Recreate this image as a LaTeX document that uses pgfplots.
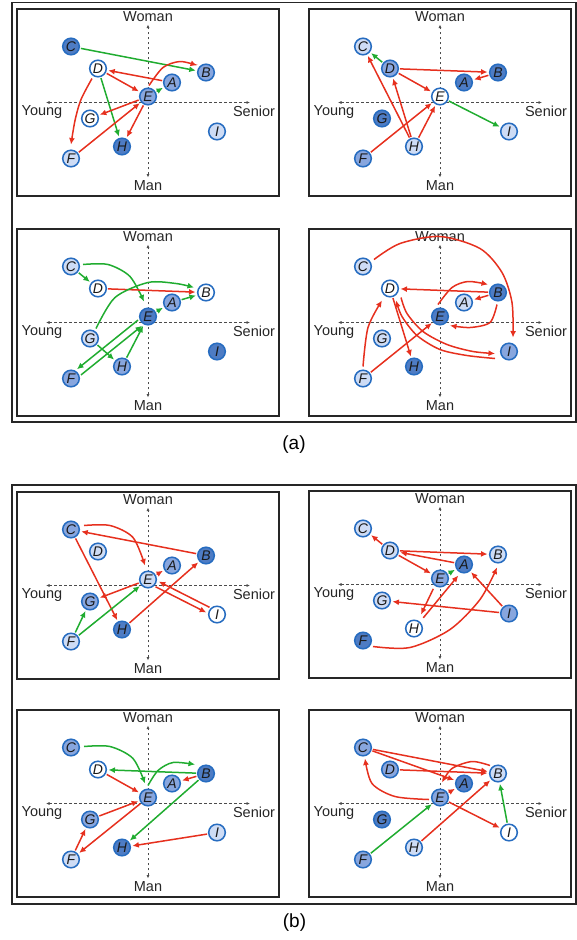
\documentclass[border=0pt]{standalone}
\usepackage{fontspec}
\setmainfont{Liberation Sans}
\usepackage{pgfplots}
\usepackage{pgfplotstable}
\pgfplotsset{compat=1.18}
\usetikzlibrary{arrows.meta}

\definecolor{arrowred}{RGB}{230,48,30}
\definecolor{arrowgreen}{RGB}{32,172,48}
\definecolor{ringblue}{RGB}{38,108,192}

% Positions of the nine persons (age to the right, gender upwards)
% and their shading in each of the eight panels
% (0 = white, 1 = light, 2 = medium, 3 = dark blue).
\pgfplotstableread{
x    y    lab c1 c2 c3 c4 c5 c6 c7 c8
24   20   A   2  3  2  1  2  3  2  3
58   30   B   2  3  0  3  3  1  3  1
-77  56   C   3  1  1  1  2  1  2  2
-50  34   D   0  2  0  0  1  1  0  2
0    6    E   2  0  3  3  1  2  2  2
-77  -56  F   1  2  2  1  1  3  1  2
-58  -16  G   0  3  1  1  2  1  2  3
-26  -44  H   3  1  2  3  3  0  3  1
69   -29  I   1  1  3  2  0  2  1  0
}\persontab

\tikzset{
  link/.style={line width=1.5pt, -{Latex[length=6.5pt,width=6pt]}},
  ra/.style={link, color=arrowred, shorten >=10.5pt, shorten <=10pt},
  ga/.style={link, color=arrowgreen, shorten >=10.5pt, shorten <=10pt},
  rc/.style={link, color=arrowred, smooth},
  gc/.style={link, color=arrowgreen, smooth},
  axlab/.style={font=\fontsize{14.5}{15}\selectfont, text=black!85, inner sep=0pt},
}

\pgfplotsset{
  panel/.style={
    scale only axis, width=262pt, height=187pt, anchor=north west,
    xmin=-131, xmax=131, ymin=-93.5, ymax=93.5,
    axis line style={line width=1.3pt, draw=black!85},
    xtick=\empty, ytick=\empty, clip=false,
    colormap={shades}{rgb255=(255,255,255) rgb255=(206,220,245)
                      rgb255=(136,166,222) rgb255=(78,124,196)},
  },
}

% dashed quadrant lines and their four labels
\newcommand\quadrants{%
  \addplot[line width=0.8pt, black!70, dash pattern=on 2.5pt off 2.5pt,
    {Latex[length=3.5pt,width=3pt]}-{Latex[length=3.5pt,width=3pt]}]
    coordinates {(-102,0) (102,0)};
  \addplot[line width=0.8pt, black!70, dash pattern=on 2.5pt off 2.5pt,
    {Latex[length=3.5pt,width=3pt]}-{Latex[length=3.5pt,width=3pt]}]
    coordinates {(0,-75) (0,78)};
  \node[axlab] at (axis cs:0,85.5) {Woman};
  \node[axlab] at (axis cs:0,-83) {Man};
  \node[axlab] at (axis cs:-106,-10) {Young};
  \node[axlab] at (axis cs:106,-9) {Senior};
}

% the nine persons, shaded after column #1, with their letters
\newcommand\persons[1]{%
  \addplot[scatter, only marks, mark=*, mark size=8.3pt,
    point meta=explicit, point meta min=0, point meta max=3,
    scatter/use mapped color={draw=ringblue, fill=mapped color, line width=1.5pt}]
    table[x=x, y=y, meta=#1]{\persontab};
  \addplot[only marks, mark=none, point meta=explicit symbolic,
    nodes near coords,
    every node near coord/.append style={anchor=center, text=black!90,
      font=\fontsize{14}{14}\selectfont\itshape, inner sep=0pt}]
    table[x=x, y=y, meta=lab]{\persontab};
}

\begin{document}
\begin{tikzpicture}
\useasboundingbox (0pt,0pt) rectangle (577pt,-940pt);

\draw[line width=1.6pt, black!85] (12pt,-2.5pt) rectangle (576pt,-422pt);
\draw[line width=1.6pt, black!85] (12pt,-485pt) rectangle (576pt,-904pt);
\node[font=\fontsize{19}{19}\selectfont] at (294pt,-445pt) {(a)};
\node[font=\fontsize{19}{19}\selectfont] at (294.5pt,-922.5pt) {(b)};

% ---------- (a), upper left
\begin{axis}[panel, at={(17pt,-9pt)}]
\quadrants
\addplot[ga] coordinates {(-77,56) (58,30)};
\addplot[ra] coordinates {(24,20) (-50,34)};
\addplot[rc] coordinates {(1,17) (15,35) (32,41) (49,37)};
\addplot[ga] coordinates {(0,6) (24,20)};
\addplot[ra] coordinates {(-50,34) (0,6)};
\addplot[rc] coordinates {(-56,24) (-67,3) (-73,-18) (-77,-42)};
\addplot[ga] coordinates {(-50,34) (-26,-44)};
\addplot[ra] coordinates {(0,6) (-58,-16)};
\addplot[ra] coordinates {(-77,-56) (0,6)};
\addplot[ra] coordinates {(0,6) (-26,-44)};
\persons{c1}
\end{axis}

% ---------- (a), upper right
\begin{axis}[panel, at={(309pt,-9pt)}]
\quadrants
\addplot[ga] coordinates {(-50,34) (-77,56)};
\addplot[ra] coordinates {(-26,-44) (-77,56)};
\addplot[ra] coordinates {(-26,-44) (-50,34)};
\addplot[ra] coordinates {(-26,-44) (0,6)};
\addplot[ra] coordinates {(-50,34) (58,30)};
\addplot[ra] coordinates {(58,30) (24,20)};
\addplot[ra] coordinates {(-50,34) (0,6)};
\addplot[ra] coordinates {(-77,-56) (0,6)};
\addplot[ga] coordinates {(0,6) (69,-29)};
\persons{c2}
\end{axis}

% ---------- (a), lower left
\begin{axis}[panel, at={(17pt,-229pt)}]
\quadrants
\addplot[ga] coordinates {(-77,56) (-50,34)};
\addplot[gc] coordinates {(-65,58) (-40,58) (-18,46) (-4,21)};
\addplot[ra] coordinates {(-50,34) (58,30)};
\addplot[gc] coordinates {(-52,-6) (-33,25) (0,40) (28,39) (46,35)};
\addplot[ga] coordinates {(0,6) (24,20)};
\addplot[ga] coordinates {(24,20) (58,30)};
\addplot[ga] coordinates {(-58,-16) (-26,-44)};
\addplot[ga] coordinates {(-2.2,8.7) (-79.2,-53.3)};
\addplot[ga] coordinates {(-74.8,-58.7) (2.2,3.3)};
\addplot[ga] coordinates {(-26,-44) (0,6)};
\persons{c3}
\end{axis}

% ---------- (a), lower right
\begin{axis}[panel, at={(309pt,-229pt)}]
\quadrants
\addplot[rc] coordinates {(-66,63) (-40,79) (0,86) (40,74) (62,50) (72,20) (73,-15)};
\addplot[ra] coordinates {(58,30) (-50,34)};
\addplot[rc] coordinates {(-2,18) (12,35) (28,41) (48,38)};
\addplot[ra] coordinates {(58,30) (24,20)};
\addplot[rc] coordinates {(57,18) (50,0) (30,-5) (10,-3)};
\addplot[rc] coordinates {(-77,-44) (-72,-5) (-58,22)};
\addplot[ra] coordinates {(-77,-56) (0,6)};
\addplot[ra] coordinates {(-50,34) (-26,-44)};
\addplot[rc] coordinates {(-39,25) (-33,9) (-17,-9) (7,-22) (33,-29) (55,-31)};
\addplot[rc] coordinates {(55,-36) (27,-33) (0,-27) (-23,-13) (-38,6) (-44,22)};
\persons{c4}
\end{axis}

% ---------- (b), upper left
\begin{axis}[panel, at={(17pt,-492pt)}]
\quadrants
\addplot[rc] coordinates {(-64,60) (-38,60) (-15,48) (-3,20)};
\addplot[ra] coordinates {(58,30) (-77,56)};
\addplot[ra] coordinates {(-77,56) (-26,-44)};
\addplot[ra] coordinates {(0,6) (24,20)};
\addplot[ra] coordinates {(0,6) (-58,-16)};
\addplot[ga] coordinates {(-77,-56) (-58,-16)};
\addplot[ga] coordinates {(-77,-56) (0,6)};
\addplot[ra] coordinates {(-26,-44) (58,30)};
\addplot[ra] coordinates {(70.4,-26.3) (1.4,8.7)};
\addplot[ra] coordinates {(-1.4,3.3) (67.6,-31.7)};
\persons{c5}
\end{axis}

% ---------- (b), upper right
\begin{axis}[panel, at={(309pt,-491pt)}]
\quadrants
\addplot[ra] coordinates {(-50,34) (-77,56)};
\addplot[ra] coordinates {(-50,34) (58,30)};
\addplot[ra] coordinates {(24,20) (-50,34)};
\addplot[ra] coordinates {(-50,34) (0,6)};
\addplot[ga] coordinates {(0,6) (24,20)};
\addplot[rc] coordinates {(-6.7,-4.3) (-19,-30)};
\addplot[rc] coordinates {(-16.7,-33.3) (18.3,9)};
\addplot[ra] coordinates {(69,-29) (-58,-16)};
\addplot[ra] coordinates {(69,-29) (24,20)};
\addplot[rc] coordinates {(-67,-62) (-30,-63) (10,-45) (40,-15) (57,17)};
\persons{c6}
\end{axis}

% ---------- (b), lower left
\begin{axis}[panel, at={(17pt,-710pt)}]
\quadrants
\addplot[gc] coordinates {(-64,57) (-38,57) (-15,45) (-3,20)};
\addplot[ga] coordinates {(58,30) (-50,34)};
\addplot[gc] coordinates {(0,18) (10,33) (25,41) (47,39)};
\addplot[ra] coordinates {(58,30) (24,20)};
\addplot[ga] coordinates {(58,30) (-26,-44)};
\addplot[ra] coordinates {(-50,34) (0,6)};
\addplot[ra] coordinates {(-58,-16) (0,6)};
\addplot[ra] coordinates {(0,6) (-77,-56)};
\addplot[ra] coordinates {(-77,-56) (-58,-16)};
\addplot[ra] coordinates {(69,-29) (-26,-44)};
\persons{c7}
\end{axis}

% ---------- (b), lower right
\begin{axis}[panel, at={(309pt,-710pt)}]
\quadrants
\addplot[ra] coordinates {(-77,56) (58,30)};
\addplot[ra] coordinates {(-77,56) (24,20)};
\addplot[ra] coordinates {(-50,34) (58,30)};
\addplot[rc] coordinates {(50,38) (32,42) (12,35) (2,21)};
\addplot[rc] coordinates {(-11,4) (-45,7) (-68,20) (-75,45)};
\addplot[ra] coordinates {(0,6) (24,20)};
\addplot[ra] coordinates {(0,6) (69,-29)};
\addplot[ra] coordinates {(-26,-44) (58,30)};
\addplot[ga] coordinates {(-77,-56) (0,6)};
\addplot[ga] coordinates {(69,-29) (58,30)};
\persons{c8}
\end{axis}
\end{tikzpicture}
\end{document}
